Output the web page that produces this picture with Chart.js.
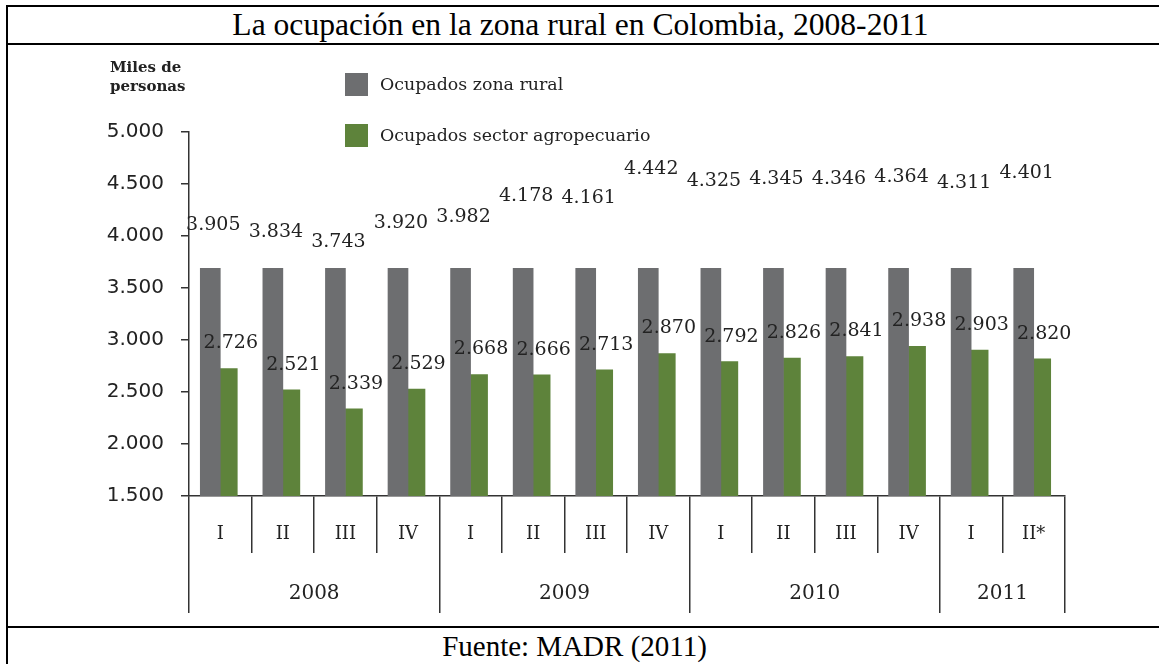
<!DOCTYPE html>
<html lang="es">
<head>
<meta charset="utf-8">
<title>La ocupación en la zona rural en Colombia, 2008-2011</title>
<script src="https://cdn.jsdelivr.net/npm/chart.js@4.4.1/dist/chart.umd.min.js"></script>
<style>
  html, body { margin: 0; padding: 0; background: #fff; }
  body { width: 1159px; height: 664px; position: relative; overflow: hidden; }
  .hl { position: absolute; left: 6px; right: 0; height: 2px; background: #000; }
  .vl { position: absolute; left: 6px; top: 5px; width: 2px; bottom: 0; background: #000; }
  .row { position: absolute; left: 8px; width: 1145px; text-align: center;
         font-family: "Liberation Serif", "Times New Roman", serif; color: #000; }
  #title { top: 7px; height: 36px; line-height: 36px; font-size: 31.6px; }
  #footer { left: 0; width: 1149px; top: 628px; height: 36px; line-height: 36px; font-size: 29px; }
  #chart { position: absolute; left: 0; top: 0; }
  #unit { position: absolute; left: 110px; top: 58px; font-family: "DejaVu Serif", serif;
          font-weight: bold; font-size: 15px; line-height: 19px; color: #222; z-index: 2; }
  .leg { position: absolute; left: 345px; height: 24px; line-height: 24px; white-space: nowrap;
         font-family: "DejaVu Serif", serif; font-size: 17.4px; color: #222; z-index: 2; }
  .leg .sw { display: inline-block; width: 23px; height: 23px; vertical-align: middle; margin-right: 12px; position: relative; top: -1px; }
</style>
</head>
<body>
<div class="hl" style="top:5px"></div>
<div class="hl" style="top:43px"></div>
<div class="hl" style="top:626px"></div>
<div class="vl"></div>
<div class="row" id="title">La ocupación en la zona rural en Colombia, 2008-2011</div>
<div class="row" id="footer">Fuente: MADR (2011)</div>
<canvas id="chart" width="1159" height="664"></canvas>
<div id="unit">Miles de<br>personas</div>
<script>
// ---- data ----
const quarterLabels = ['I', 'II', 'III', 'IV', 'I', 'II', 'III', 'IV', 'I', 'II', 'III', 'IV', 'I', 'II*'];
const yearLabels = ['2008', '2009', '2010', '2011'];
const quartersPerYear = [4, 4, 4, 2];
const seriesNames = ['Ocupados zona rural', 'Ocupados sector agropecuario'];
const seriesColors = ['#6d6e70', '#5e833b'];
// labelled values of the grey series
const ruralValues = [3905, 3834, 3743, 3920, 3982, 4178, 4161, 4442, 4325, 4345, 4346, 4364, 4311, 4401];
// grey bars as drawn in the picture (all cut at the same height)
const ruralBarTops = [3690, 3690, 3690, 3690, 3690, 3690, 3690, 3690, 3690, 3690, 3690, 3690, 3690, 3690];
const agroValues = [2726, 2521, 2339, 2529, 2668, 2666, 2713, 2870, 2792, 2826, 2841, 2938, 2903, 2820];
const yTickLabels = ['1.500', '2.000', '2.500', '3.000', '3.500', '4.000', '4.500', '5.000'];

// ---- helpers ----
function fmtThousands(v) {
  const th = Math.floor(v / 1000), rest = v % 1000;
  return th + '.' + String(rest).padStart(3, '0');
}
// year axis: boundaries and centres in category units
const yearBoundaries = [];
const yearCentres = [];
(function () {
  let start = -0.5;
  yearBoundaries.push(start);
  quartersPerYear.forEach(n => {
    yearCentres.push(start + n / 2);
    start += n;
    yearBoundaries.push(start);
  });
})();
const yearTickValues = yearBoundaries.concat(yearCentres).sort((a, b) => a - b);

const valueLabelPlugin = {
  id: 'valueLabels',
  afterDatasetsDraw(chart) {
    const ctx = chart.ctx;
    const ys = chart.scales.y;
    chart.data.datasets.forEach((ds, di) => {
      const meta = chart.getDatasetMeta(di);
      const lift = di === 0 ? 21 : 25;
      meta.data.forEach((bar, i) => {
        const v = ds.valueLabels[i];
        ctx.save();
        ctx.font = '19px "DejaVu Serif"';
        ctx.fillStyle = '#222';
        ctx.textAlign = 'center';
        ctx.textBaseline = 'middle';
        ctx.fillText(fmtThousands(v), bar.x + (di === 0 ? 3 : 2), ys.getPixelForValue(v) - lift);
        ctx.restore();
      });
    });
  }
};

const chart = new Chart(document.getElementById('chart'), {
  type: 'bar',
  data: {
    labels: quarterLabels,
    datasets: [
      { label: seriesNames[0], data: ruralBarTops, valueLabels: ruralValues,
        backgroundColor: seriesColors[0], barThickness: 20, xAxisID: 'x', yAxisID: 'y' },
      { label: seriesNames[1], data: agroValues, valueLabels: agroValues,
        backgroundColor: seriesColors[1], barThickness: 17, xAxisID: 'x', yAxisID: 'y' }
    ]
  },
  options: {
    responsive: false,
    animation: false,
    events: [],
    layout: { padding: { top: 132, right: 94, bottom: 51, left: 0 } },
    plugins: { legend: { display: false }, tooltip: { enabled: false }, title: { display: false } },
    scales: {
      y: {
        position: 'left', min: 1500, max: 5000,
        ticks: { stepSize: 500, padding: 17, color: '#222',
                 font: { family: 'DejaVu Sans', size: 20 },
                 callback: (v, i) => yTickLabels[i] },
        grid: { drawOnChartArea: false, tickLength: 8, color: '#333', lineWidth: 1.5 },
        border: { display: true, color: '#333', width: 1.5 },
        afterFit: s => { s.width = 189; }
      },
      x: {
        type: 'category', position: 'bottom', offset: true, weight: 0,
        grid: { offset: true, drawOnChartArea: false, tickLength: 57, color: '#333', lineWidth: 1.5 },
        border: { display: true, color: '#333', width: 1.5 },
        ticks: { padding: -29, color: '#222', autoSkip: false, maxRotation: 0,
                 font: { family: 'DejaVu Serif', size: 18 } },
        afterFit: s => { s.height = 57; }
      },
      x2: {
        type: 'linear', position: 'bottom', weight: 1, min: -0.5, max: 13.5, offset: false, bounds: 'data',
        afterBuildTicks: s => { s.ticks = yearTickValues.map(v => ({ value: v })); },
        grid: { offset: false, drawOnChartArea: false, tickLength: 60, lineWidth: 1.5,
                color: c => (c.tick && yearBoundaries.includes(c.tick.value)) ? '#333' : 'rgba(0,0,0,0)' },
        border: { display: false },
        ticks: { padding: -31, color: '#222', autoSkip: false, maxRotation: 0,
                 font: { family: 'DejaVu Serif', size: 20 },
                 callback: v => { const k = yearCentres.indexOf(v); return k >= 0 ? yearLabels[k] : ''; } },
        afterFit: s => { s.height = 60; }
      }
    }
  },
  plugins: [valueLabelPlugin]
});

// HTML legend built from the chart's datasets
const legendTops = [72, 123];
chart.data.datasets.forEach((ds, i) => {
  const d = document.createElement('div');
  d.className = 'leg';
  d.style.top = legendTops[i] + 'px';
  const sw = document.createElement('span');
  sw.className = 'sw';
  sw.style.background = ds.backgroundColor;
  d.appendChild(sw);
  d.appendChild(document.createTextNode(ds.label));
  document.body.appendChild(d);
});
</script>
</body>
</html>
